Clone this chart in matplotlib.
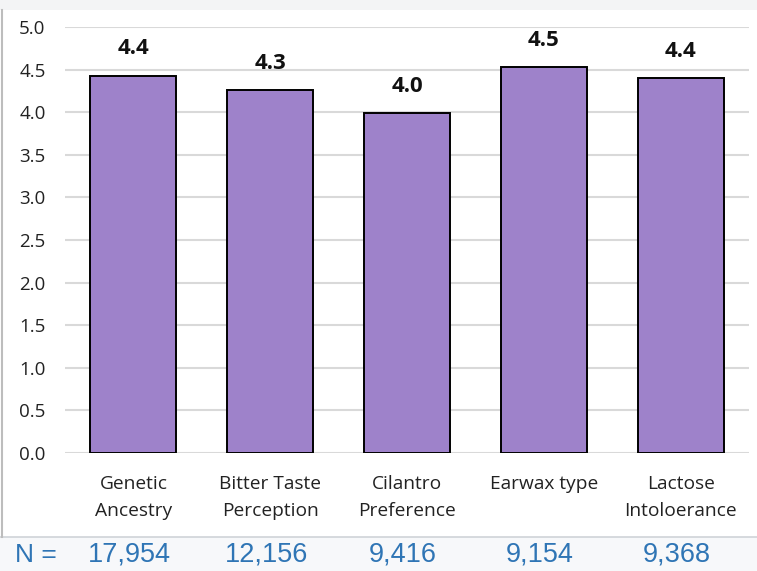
import matplotlib
matplotlib.use("Agg")
import matplotlib.pyplot as plt
from matplotlib.patches import Rectangle
from matplotlib.lines import Line2D
from matplotlib.transforms import blended_transform_factory

categories = ["Genetic\nAncestry", "Bitter Taste\nPerception", "Cilantro\nPreference",
              "Earwax type", "Lactose\nIntoloerance"]
scores = [4.43, 4.26, 3.99, 4.53, 4.40]
sample_sizes = ["17,954", "12,156", "9,416", "9,154", "9,368"]
y_ticks = [0.0, 0.5, 1.0, 1.5, 2.0, 2.5, 3.0, 3.5, 4.0, 4.5, 5.0]

BAR_COLOR = "#9e82ca"
N_COLOR = "#2f75b5"
LABEL_FONT = ["Open Sans", "DejaVu Sans"]

fig = plt.figure(figsize=(7.57, 5.71), dpi=100)
fig.patch.set_facecolor("white")

# light frame strips around the chart box
fig.add_artist(Rectangle((0, 1 - 10 / 571), 1, 10 / 571, transform=fig.transFigure,
                         facecolor="#f3f4f5", edgecolor="none", zorder=0))
fig.add_artist(Rectangle((0, 0), 1, 34 / 571, transform=fig.transFigure,
                         facecolor="#f7f8fa", edgecolor="none", zorder=0))
fig.add_artist(Line2D([0, 1], [34 / 571, 34 / 571], transform=fig.transFigure,
                      color="#cfd3d8", lw=1.2))
fig.add_artist(Line2D([1.5 / 757, 1.5 / 757], [34 / 571, 1 - 10 / 571],
                      transform=fig.transFigure, color="#bdbdbd", lw=1.5))

ax = fig.add_axes([65 / 757, 118 / 571, 684 / 757, 426 / 571])
ax.set_facecolor("none")

x = list(range(len(categories)))
bars = ax.bar(x, scores, width=0.63, color=BAR_COLOR, edgecolor="black",
              linewidth=1.4, zorder=3)

for xi, v in zip(x, scores):
    ax.text(xi, v + 0.19, f"{v:.1f}", ha="center", va="bottom", fontsize=16,
            fontweight="bold", family=LABEL_FONT, color="#111111")

ax.set_xlim(-0.5, len(categories) - 0.5)
ax.set_ylim(0, 5.0)
ax.set_yticks(y_ticks)
ax.set_yticklabels([f"{t:.1f}" for t in y_ticks], family=LABEL_FONT, fontsize=13.5,
                   color="#222222")
ax.set_xticks(x)
ax.set_xticklabels(categories, family=LABEL_FONT, fontsize=13.8, color="#222222",
                   linespacing=1.65)
ax.tick_params(axis="y", length=0, pad=14)
ax.tick_params(axis="x", length=0, pad=15.5)
ax.yaxis.grid(True, color="#d9d9d9", linewidth=1.5, zorder=0)
ax.set_axisbelow(True)
for s in ax.spines.values():
    s.set_visible(False)

# sample size row beneath the chart
trans = blended_transform_factory(ax.transData, fig.transFigure)
fig.text(15 / 757, 16.5 / 571, "N =", ha="left", va="center", fontsize=19,
         family=["Liberation Sans", "DejaVu Sans"], color=N_COLOR)
for xi, n in zip(x, sample_sizes):
    ax.text(xi - 0.03, 16.5 / 571, n, transform=trans, ha="center", va="center",
            fontsize=19.5, family=["Liberation Sans", "DejaVu Sans"], color=N_COLOR,
            clip_on=False)

fig.savefig("out.png", dpi=100, facecolor=fig.get_facecolor())
